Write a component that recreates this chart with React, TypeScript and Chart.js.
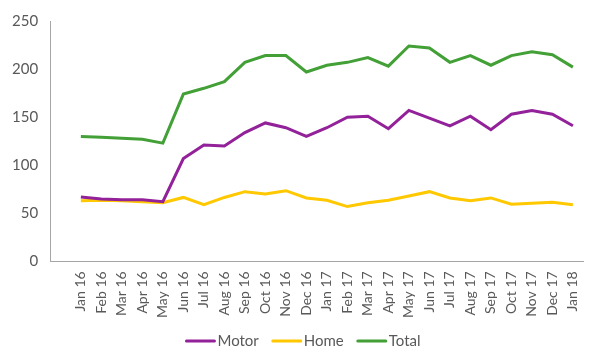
import React, { useEffect, useRef } from "react";
import { Chart, registerables } from "chart.js";

Chart.register(...registerables);

const categories = ["", "Jan 16", "Feb 16", "Mar 16", "Apr 16", "May 16", "Jun 16", "Jul 16", "Aug 16", "Sep 16", "Oct 16", "Nov 16", "Dec 16", "Jan 17", "Feb 17", "Mar 17", "Apr 17", "May 17", "Jun 17", "Jul 17", "Aug 17", "Sep 17", "Oct 17", "Nov 17", "Dec 17", "Jan 18"];
const motor = [null, 67, 65, 64, 64, 62, 107, 121, 120, 134, 144, 139, 130, 139, 150, 151, 138, 157, 149, 141, 151, 137, 153, 157, 153, 141];
const home = [null, 63, 63.5, 63, 62, 61, 66.5, 59, 66.5, 72.5, 70, 73.5, 66, 63.5, 57, 61, 63.5, 68, 72.5, 66, 63, 66, 59.5, 60.5, 61.5, 59];
const total = [null, 130, 129, 128, 127, 123, 174, 180, 187, 207, 214, 214, 197, 204, 207, 212, 203, 224, 222, 207, 214, 204, 214, 218, 215, 202];

const FONT = "Lato, 'Open Sans', sans-serif";

const lineLegend = {
  id: "lineLegend",
  afterDraw(chart: any) {
    const ctx = chart.ctx;
    ctx.save();
    ctx.font = `15px ${FONT}`;
    ctx.textBaseline = "middle";
    const items = chart.data.datasets.map((d: any) => ({ text: d.label, color: d.borderColor, w: ctx.measureText(d.label).width }));
    const lineW = 30, gap = 2, itemGap = 13;
    const totalW = items.reduce((s: number, it: any) => s + lineW + gap + it.w, 0) + itemGap * (items.length - 1);
    let x = 303 - totalW / 2;
    const y = 341;
    for (const it of items) {
      ctx.strokeStyle = it.color;
      ctx.lineWidth = 3;
      ctx.lineCap = "round";
      ctx.beginPath();
      ctx.moveTo(x + 1, y);
      ctx.lineTo(x + lineW - 1, y);
      ctx.stroke();
      ctx.fillStyle = "#595959";
      ctx.fillText(it.text, x + lineW + gap, y);
      x += lineW + gap + it.w + itemGap;
    }
    ctx.restore();
  },
};

export default function App() {
  const ref = useRef<HTMLCanvasElement>(null);
  useEffect(() => {
    const ctx = ref.current!;
    const chart = new Chart(ctx, {
      type: "line",
      data: {
        labels: categories,
        datasets: [
          { label: "Motor", data: motor, borderColor: "#92219A", backgroundColor: "#92219A", borderWidth: 3, pointRadius: 0, tension: 0 },
          { label: "Home", data: home, borderColor: "#FFC800", backgroundColor: "#FFC800", borderWidth: 3, pointRadius: 0, tension: 0 },
          { label: "Total", data: total, borderColor: "#42A037", backgroundColor: "#42A037", borderWidth: 3, pointRadius: 0, tension: 0 },
        ],
      },
      plugins: [lineLegend],
      options: {
        animation: false,
        responsive: false,
        maintainAspectRatio: false,
        layout: { padding: { top: -3, right: 16, left: 0, bottom: 36 } },
        plugins: {
          tooltip: { enabled: false },
          legend: { display: false },
        },
        scales: {
          x: {
            offset: true,
            grid: { display: false, drawTicks: false },
            border: { display: true, color: "#A6A6A6", width: 1 },
            ticks: {
              autoSkip: false,
              maxRotation: 90,
              minRotation: 90,
              padding: 10,
              color: "#595959",
              font: { family: FONT, size: 14 },
            },
          },
          y: {
            min: 0,
            max: 250,
            grid: { display: false, drawTicks: false },
            border: { display: true, color: "#A6A6A6", width: 1 },
            ticks: {
              stepSize: 50,
              padding: 12,
              color: "#595959",
              font: { family: FONT, size: 15 },
            },
          },
        },
      },
    });
    return () => chart.destroy();
  }, []);
  return (
    <div style={{ position: "fixed", left: 0, top: 0, width: 600, height: 364, background: "#fff" }}>
      <canvas ref={ref} width={600} height={364} style={{ width: 600, height: 364 }} />
    </div>
  );
}
